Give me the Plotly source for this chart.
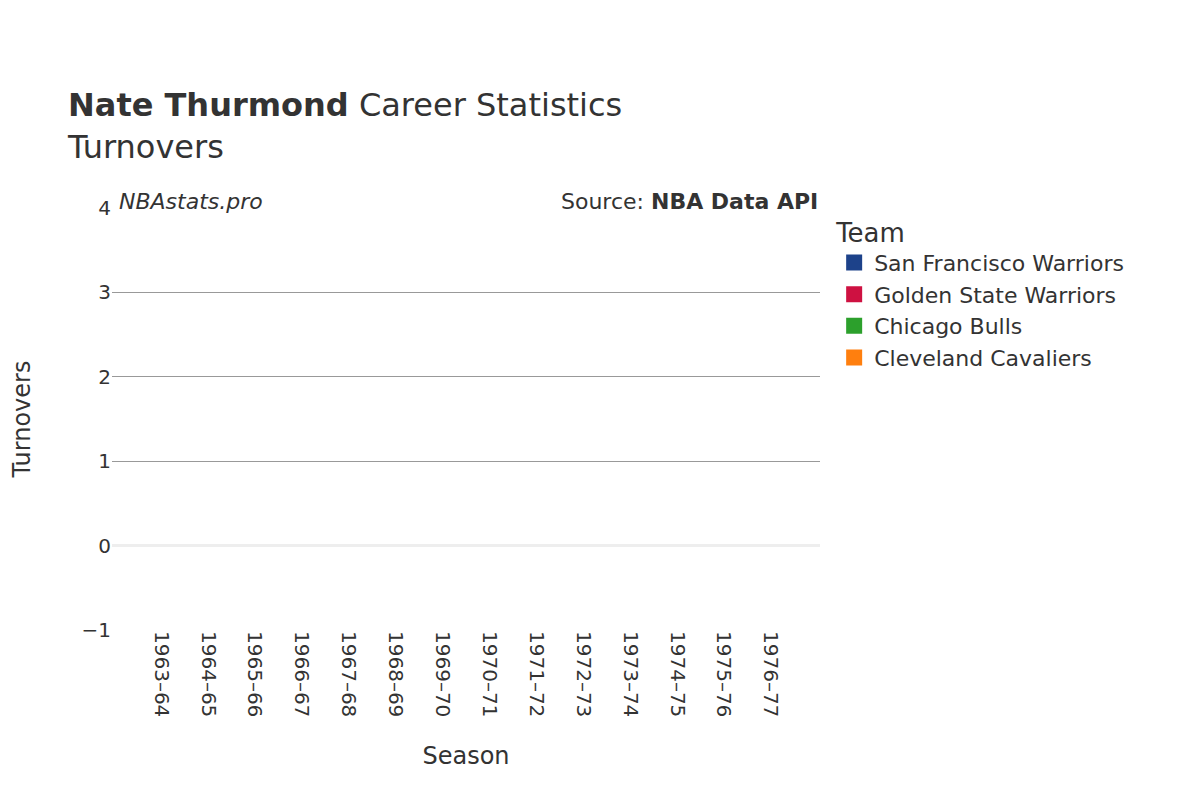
import plotly.graph_objects as go

seasons = ["1963–64", "1964–65", "1965–66", "1966–67", "1967–68", "1968–69", "1969–70",
           "1970–71", "1971–72", "1972–73", "1973–74", "1974–75", "1975–76", "1976–77"]
teams = ["San Francisco Warriors", "Golden State Warriors", "Chicago Bulls", "Cleveland Cavaliers"]
team_colors = ["#1d428a", "#ce1141", "#2ca02c", "#ff7f0e"]
# turnovers were not recorded in these seasons
turnovers = {t: [None] * len(seasons) for t in teams}

fig = go.Figure()
for team, color in zip(teams, team_colors):
    fig.add_trace(go.Scatter(x=seasons, y=turnovers[team], name=team, mode="markers",
                             marker=dict(color=color, size=22, symbol="square")))

fig.update_layout(
    width=1200, height=800,
    font=dict(family="DejaVu Sans", size=20, color="#333"),
    plot_bgcolor="white", paper_bgcolor="white",
    title=dict(text="<b>Nate Thurmond</b> Career Statistics<br>Turnovers",
               x=0.05, y=0.865, font=dict(size=32)),
    margin=dict(l=98, r=388, t=200, b=178),
    legend=dict(title=dict(text="Team", font=dict(size=26)), x=1.02, y=1.0,
                font=dict(size=22), itemsizing="trace", tracegroupgap=8),
    xaxis=dict(title=dict(text="Season", font=dict(size=24), standoff=30), tickangle=90,
               categoryorder="array", categoryarray=seasons, showgrid=False),
    yaxis=dict(title=dict(text="Turnovers", font=dict(size=24), standoff=45), range=[-1, 4],
               dtick=1, gridcolor="#999", zerolinecolor="#eee", zerolinewidth=3),
    annotations=[
        dict(text="<i>NBAstats.pro</i>", x=0, y=1.0, xref="paper", yref="paper",
             xanchor="left", yanchor="bottom", showarrow=False, xshift=5, yshift=-8,
             font=dict(size=22)),
        dict(text="Source: <b>NBA Data API</b>", x=1, y=1.0, xref="paper", yref="paper",
             xanchor="right", yanchor="bottom", showarrow=False, yshift=-8,
             font=dict(size=22)),
    ],
)
fig.write_html("out.html")
